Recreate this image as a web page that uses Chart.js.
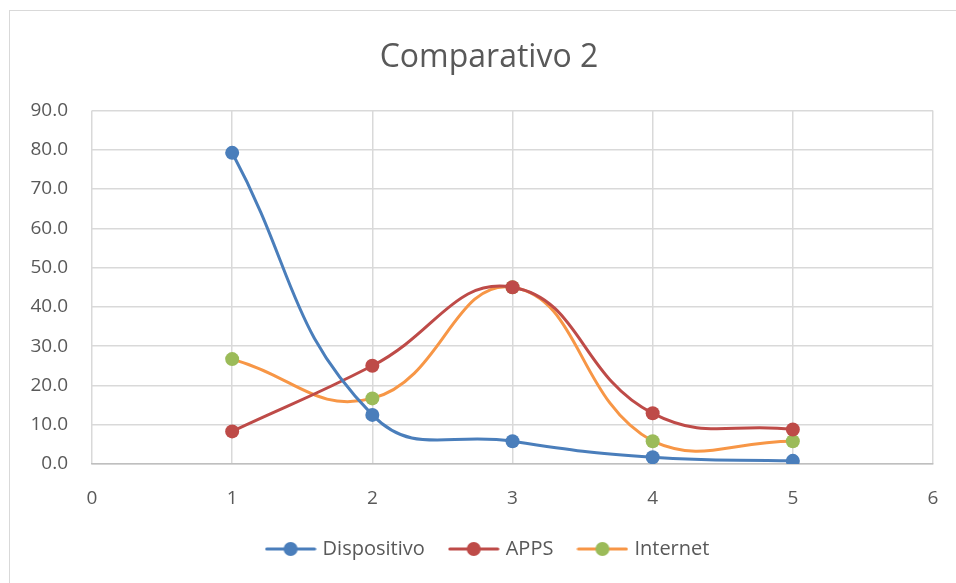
<!DOCTYPE html>
<html>
<head>
<meta charset="utf-8">
<script src="https://cdn.jsdelivr.net/npm/chart.js@4.4.1/dist/chart.umd.min.js"></script>
<style>
  html, body { margin: 0; padding: 0; background: #fff; }
  #wrap { position: absolute; left: 9px; top: 10px; width: 946px; height: 572px; border: 1px solid #d9d9d9; border-right: none; border-bottom: none; }
  #chart { position: absolute; left: 0; top: 0; }
</style>
</head>
<body>
<div id="wrap"><canvas id="chart" width="946" height="572"></canvas></div>
<script>
var xValues = [1, 2, 3, 4, 5];
var dispositivo = [79.2, 12.5, 5.8, 1.7, 0.8];
var apps = [8.3, 25.0, 45.0, 12.9, 8.8];
var internet = [26.7, 16.7, 45.0, 5.8, 5.8];
var seriesNames = ["Dispositivo", "APPS", "Internet"];

function pts(vals) {
  return xValues.map(function (x, i) { return { x: x, y: vals[i] }; });
}

// legend symbol: line with a marker in the middle
function legendIcon(lineColor, dotColor) {
  var c = document.createElement("canvas");
  c.width = 52; c.height = 16;
  var g = c.getContext("2d");
  g.strokeStyle = lineColor;
  g.lineWidth = 3;
  g.lineCap = "round";
  g.beginPath(); g.moveTo(2, 8); g.lineTo(50, 8); g.stroke();
  g.fillStyle = dotColor;
  g.beginPath(); g.arc(26, 8, 7, 0, Math.PI * 2); g.fill();
  return c;
}

var ctx = document.getElementById("chart");
var font = "'Open Sans', 'Noto Sans', sans-serif";

const myChart = new Chart(ctx, {
  type: "scatter",
  data: {
    datasets: [
      {
        label: seriesNames[0],
        data: pts(dispositivo),
        borderColor: "#4a7ebb",
        backgroundColor: "#4a7ebb",
        pointStyle: legendIcon("#4a7ebb", "#4a7ebb"),
      },
      {
        label: seriesNames[1],
        data: pts(apps),
        borderColor: "#be4b48",
        backgroundColor: "#be4b48",
        pointStyle: legendIcon("#be4b48", "#be4b48"),
      },
      {
        label: seriesNames[2],
        data: pts(internet),
        borderColor: "#f79646",
        backgroundColor: "#9bbb59",
        pointStyle: legendIcon("#f79646", "#9bbb59"),
      },
    ].map(function (d) {
      d.legendStyle = d.pointStyle;
      d.pointStyle = "circle";
      d.showLine = true;
      d.borderWidth = 3;
      d.tension = 0.45;
      d.pointRadius = 7;
      d.pointHoverRadius = 7;
      d.pointBorderWidth = 0;
      d.pointBackgroundColor = d.backgroundColor;
      return d;
    }),
  },
  options: {
    responsive: false,
    animation: false,
    layout: { padding: { left: 12, right: 0, top: 28, bottom: 14 } },
    plugins: {
      title: {
        display: true,
        text: "Comparativo 2",
        color: "#595959",
        font: { size: 32, family: font, weight: "normal" },
        padding: { top: 0, bottom: 33 },
      },
      legend: {
        position: "bottom",
        labels: {
          color: "#595959",
          font: { size: 20, family: font, lineHeight: 1 },
          usePointStyle: true,
          pointStyleWidth: 44,
          boxHeight: 16,
          padding: 27,
          generateLabels: function (chart) {
            return chart.data.datasets.map(function (d, i) {
              return {
                text: d.label,
                pointStyle: d.legendStyle,
                fillStyle: d.backgroundColor,
                strokeStyle: d.borderColor,
                lineWidth: 0,
                fontColor: "#595959",
                datasetIndex: i,
              };
            });
          },
        },
      },
      tooltip: { enabled: false },
    },
    scales: {
      x: {
        type: "linear",
        min: 0,
        max: 6,
        afterFit: function (axis) {
          axis.height = 48;
          axis.paddingRight = 0;
        },
        ticks: { stepSize: 1, color: "#595959", font: { size: 19, family: font }, padding: 23 },
        grid: { color: "#d9d9d9", lineWidth: 1.5, drawTicks: false },
        border: { color: "#bfbfbf", width: 1.5 },
      },
      y: {
        min: 0,
        max: 90,
        afterFit: function (axis) { axis.width = 70; },
        ticks: {
          stepSize: 10,
          color: "#595959",
          font: { size: 19, family: font },
          padding: 24,
          callback: function (v) { return v.toFixed(1); },
        },
        grid: { color: "#d9d9d9", lineWidth: 1.5, drawTicks: false },
        border: { display: false },
      },
      // empty right margin so the plot ends where the reference does
      pad: {
        type: "linear",
        position: "right",
        min: 0,
        max: 1,
        afterFit: function (axis) { axis.width = 23; },
        ticks: { display: false },
        grid: { display: false, drawTicks: false },
        border: { display: false },
      },
    },
  },
});
</script>
</body>
</html>
